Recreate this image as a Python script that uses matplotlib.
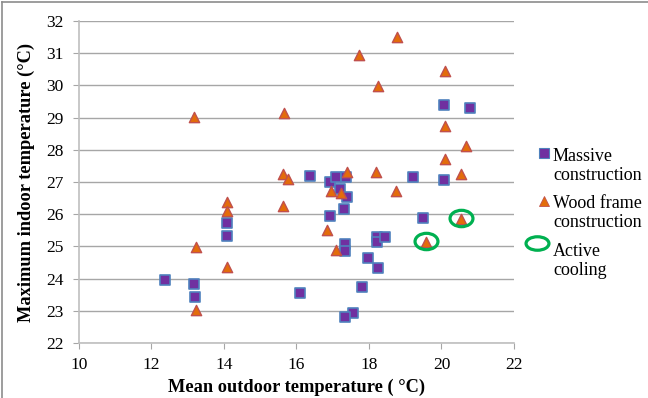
import matplotlib.pyplot as plt
import numpy as np
from matplotlib.path import Path
from matplotlib.transforms import Affine2D
from matplotlib.lines import Line2D

# Massive construction: mean outdoor temp vs max indoor temp
massiveX = [12.37, 13.17, 13.2, 14.08, 14.08, 16.1, 16.37, 16.92, 17.09, 17.37,
            17.2, 17.39, 17.31, 16.92, 17.34, 17.34, 18.22, 18.22, 18.44, 17.97,
            18.25, 17.8, 17.57, 17.34, 19.21, 20.07, 19.49, 20.07, 20.79]
massiveY = [23.96, 23.83, 23.43, 25.73, 25.32, 23.55, 27.19, 27.0, 27.14, 27.16,
            26.78, 26.53, 26.16, 25.94, 25.08, 24.86, 25.28, 25.15, 25.29, 24.64,
            24.33, 23.74, 22.93, 22.8, 27.16, 27.06, 25.88, 29.38, 29.3]

# Wood frame construction
woodX = [13.17, 15.66, 15.63, 15.77, 18.77, 17.72, 20.1, 18.25, 20.1, 20.68,
         20.1, 17.39, 18.19, 20.54, 16.95, 17.23, 18.74, 14.08, 14.08, 15.63,
         13.23, 14.08, 13.23, 16.84, 17.09, 19.57, 20.54]
woodY = [29.02, 29.14, 27.25, 27.09, 31.5, 30.94, 30.45, 29.98, 28.74, 28.12,
         27.71, 27.31, 27.31, 27.25, 26.72, 26.66, 26.72, 26.38, 26.1, 26.25,
         24.98, 24.36, 23.02, 25.51, 24.89, 25.14, 25.85]

# Buildings with active cooling
coolX = [19.57, 20.54]
coolY = [25.17, 25.88]

xTicks = [10, 12, 14, 16, 18, 20, 22]
yTicks = [22, 23, 24, 25, 26, 27, 28, 29, 30, 31, 32]

legendNames = ['Massive\nconstruction', 'Wood frame\nconstruction', 'Active\ncooling']

plt.rcParams['font.family'] = ['Liberation Serif', 'DejaVu Serif']

PURPLE, BLUE = '#7030A0', '#4F81BD'
ORANGE, RED = '#E36C0A', '#C0504D'
GREEN = '#00B050'

ellipse = Path.unit_circle().transformed(Affine2D().scale(1.4, 1.0))
ellipseFlat = Path.unit_circle().transformed(Affine2D().scale(1.7, 1.0))

fig = plt.figure(figsize=(6.48, 3.98), dpi=100)
ax = fig.add_axes([0.1219, 0.1382, 0.6713, 0.809])

ax.scatter(massiveX, massiveY, marker='s', s=44, facecolor=PURPLE,
           edgecolor=BLUE, linewidth=1.2, zorder=3)
ax.scatter(woodX, woodY, marker='^', s=55, facecolor=ORANGE,
           edgecolor=RED, linewidth=1.0, zorder=4)
ax.plot(coolX, coolY, linestyle='none', marker=ellipse, markersize=16.5,
        markerfacecolor='none', markeredgecolor=GREEN, markeredgewidth=2.3, zorder=5)

ax.set_xlim(10, 22)
ax.set_ylim(22, 32)
ax.set_xticks(xTicks)
ax.set_yticks(yTicks)
ax.tick_params(labelsize=12.5, length=4, color='#A6A6A6')
ax.tick_params(axis='x', pad=6)
ax.tick_params(axis='y', pad=7)
ax.grid(axis='y', color='#A6A6A6', linewidth=1)
ax.set_axisbelow(True)
for side in ['top', 'right']:
    ax.spines[side].set_visible(False)
for side in ['left', 'bottom']:
    ax.spines[side].set_color('#BFBFBF')
    ax.spines[side].set_linewidth(1.2)

ax.set_xlabel('Mean outdoor temperature ( °C)', fontsize=13.2, weight='bold', labelpad=4)
ax.set_ylabel('Maximum indoor temperature (°C)', fontsize=13.2, weight='bold', labelpad=8)

# legend drawn by hand so the symbol sits beside the first text line
# (text is anchored on the baseline of its second line)
W, H = 648.0, 398.0
legendItems = [
    (544, 153, 179.5, dict(marker='s', markersize=6.5, markerfacecolor=PURPLE,
                           markeredgecolor=BLUE, markeredgewidth=0.8)),
    (544, 201, 227, dict(marker='^', markersize=7, markerfacecolor=ORANGE,
                         markeredgecolor=RED, markeredgewidth=0.6)),
    (537, 243, 275, dict(marker=ellipseFlat, markersize=16.5, markerfacecolor='none',
                         markeredgecolor=GREEN, markeredgewidth=2.3)),
]
for (px, py, baseY, style), name in zip(legendItems, legendNames):
    fig.add_artist(Line2D([px / W], [1 - py / H], linestyle='none',
                          transform=fig.transFigure, **style))
    fig.text(553 / W, 1 - baseY / H, name, fontsize=13, va='baseline', ha='left',
             linespacing=1.12)

# outer border (top and left edges)
fig.add_artist(Line2D([0.003, 1], [0.995, 0.995], color='#8C8C8C', linewidth=1.2,
                      transform=fig.transFigure))
fig.add_artist(Line2D([0.003, 0.003], [0, 0.995], color='#8C8C8C', linewidth=1.2,
                      transform=fig.transFigure))

plt.savefig('out.png', dpi=100)
